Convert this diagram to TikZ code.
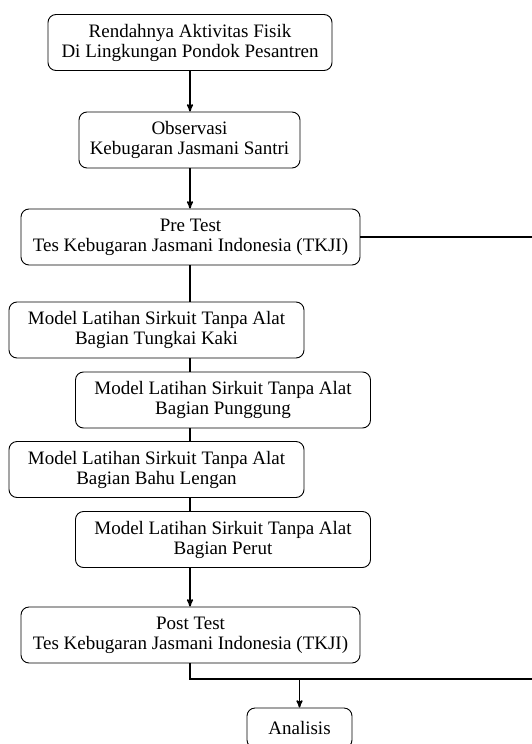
\documentclass[tikz,border=0pt]{standalone}
\usepackage{fontspec}
\setmainfont{Liberation Serif}
\usetikzlibrary{arrows,positioning,calc}

\begin{document}
\begin{tikzpicture}[>=stealth', x=1pt, y=-1pt,
    box/.style={draw, line width=0.9pt, rounded corners=8pt, align=center,
      inner sep=0pt, minimum height=56pt,
      font=\fontsize{19}{20}\selectfont},
    model/.style={box, minimum width=295pt},
    tes/.style={box, minimum width=339pt},
    conn/.style={line width=1.5pt}]
  \useasboundingbox (0,0) rectangle (532,744);
  \node [box, minimum width=284pt] (rendah) at (190,42.5)
    {Rendahnya Aktivitas Fisik\\Di Lingkungan Pondok Pesantren};
  \node [box, minimum width=221pt] (obs) at (189.5,140)
    {Observasi\\Kebugaran Jasmani Santri};
  \node [tes] (pre) at (190.5,237)
    {Pre Test\\Tes Kebugaran Jasmani Indonesia (TKJI)};
  \node [model] (kaki) at (156.5,330)
    {Model Latihan Sirkuit Tanpa Alat\\Bagian Tungkai Kaki};
  \node [model] (punggung) at (223,400)
    {Model Latihan Sirkuit Tanpa Alat\\Bagian Punggung};
  \node [model] (bahu) at (156.5,469.5)
    {Model Latihan Sirkuit Tanpa Alat\\Bagian Bahu Lengan};
  \node [model] (perut) at (223,539.5)
    {Model Latihan Sirkuit Tanpa Alat\\Bagian Perut};
  \node [tes] (post) at (190.5,635)
    {Post Test\\Tes Kebugaran Jasmani Indonesia (TKJI)};
  \node [box, minimum width=105pt, minimum height=40pt] (analisis) at (299.5,728) {Analisis};
  \coordinate (preend) at (532,237);
  \coordinate (postbend) at (190,679);
  \coordinate (postend) at (532,679);
  % main line
  \draw [conn,->] (rendah.south -| 190,0) -- (obs.north -| 190,0);
  \draw [conn,->] (obs.south -| 190,0) -- (pre.north -| 190,0);
  \draw [conn] (pre.south -| 190,0) -- (kaki.north -| 190,0);
  \draw [conn] (kaki.south -| 190,0) -- (punggung.north -| 190,0);
  \draw [conn] (punggung.south -| 190,0) -- (bahu.north -| 190,0);
  \draw [conn] (bahu.south -| 190,0) -- (perut.north -| 190,0);
  \draw [conn,->] (perut.south -| 190,0) -- (post.north -| 190,0);
  \draw [conn] (post.south -| postbend) -- (postbend) -- (postend);
  \draw [conn,->] (postbend -| analisis) -- (analisis.north);
  \draw [conn] (pre.east) -- (preend);
\end{tikzpicture}
\end{document}
